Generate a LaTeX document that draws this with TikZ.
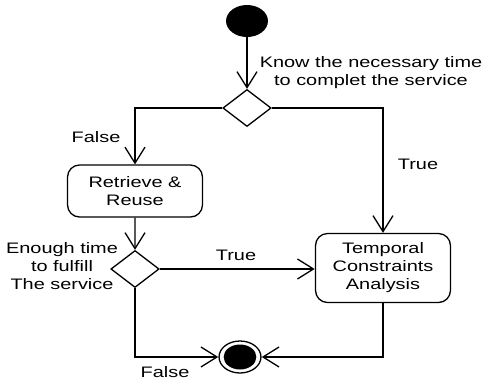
\documentclass[tikz,border=0pt]{standalone}
\usepackage{fontspec}
\setmainfont{Liberation Sans}
\usetikzlibrary{arrows.meta,shapes.geometric}

\tikzset{
  every node/.style={xscale=1.31, font=\fontsize{15.2}{18}\selectfont},
  flow/.style={-{Straight Barb[length=16pt,width=20pt]}, line width=1.3pt},
  activity/.style={draw, line width=1.3pt, rounded corners=12pt, align=center,
    minimum width=103pt, inner sep=0pt},
  decision/.style={draw, line width=1.3pt, diamond, aspect=1, minimum size=37pt, inner sep=0pt},
  initial/.style={circle, fill=black, minimum size=32pt, inner sep=0pt},
  finalring/.style={circle, draw, line width=1.3pt, minimum size=32pt, inner sep=0pt},
  finaldot/.style={circle, fill=black, minimum size=25pt, inner sep=0pt},
  guard/.style={align=center, inner sep=0pt}
}

\begin{document}
\begin{tikzpicture}[x=1pt, y=-1pt]
  \useasboundingbox (0,0) rectangle (483,381);

  \node[initial] (start) at (247,21) {};
  \node[decision] (d1) at (247,108) {};
  \node[activity, minimum height=52pt] (retrieve) at (135,191) {Retrieve \&\\Reuse};
  \node[decision] (d2) at (135,269) {};
  \node[activity, minimum height=69pt] (temporal) at (383,268) {Temporal\\Constraints\\Analysis};
  \node[finalring] (end) at (240,357) {};
  \node[finaldot] (enddot) at (end) {};

  % guards
  \node[guard] (know) at (371,73) {Know the necessary time\\to complet the service};
  \node[guard] (f1) at (96,137) {False};
  \node[guard] (t1) at (418,164) {True};
  \node[guard] (enough) at (62,266) {Enough time\\to fulfill\\The service};
  \node[guard] (t2) at (236,255) {True};
  \node[guard] (f2) at (165,372) {False};

  \draw[flow] (start) -- (d1);
  \draw[flow] (d1.west) -| (retrieve.north);
  \draw[flow] (d1.east) -| (temporal.north);
  \draw[flow] (retrieve) -- (d2);
  \draw[flow] (d2.east) -- (d2.east -| temporal.west);
  \draw[flow] (d2.south) |- (end.west);
  \draw[flow] (temporal.south) |- (end.east);
\end{tikzpicture}
\end{document}
